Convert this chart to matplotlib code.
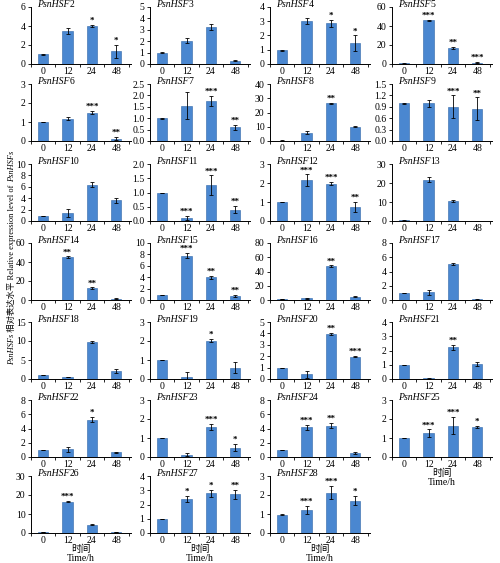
import matplotlib
matplotlib.use("Agg")
import matplotlib.pyplot as plt
from matplotlib.ticker import FixedLocator, FormatStrFormatter

plt.rcParams['font.family'] = ['Liberation Serif', 'Noto Sans CJK SC']
plt.rcParams['font.size'] = 7

times = ['0', '12', '24', '48']
genes = ['2', '3', '4', '5', '6', '7', '8', '9', '10', '11', '12', '13', '14', '15',
         '16', '17', '18', '19', '20', '21', '22', '23', '24', '25', '26', '27', '28']

means = [
    [1.0, 3.45, 4.0, 1.35], [1.0, 2.05, 3.25, 0.3], [0.95, 3.0, 2.85, 1.45],
    [0.6, 46.0, 17.0, 1.5], [1.0, 1.17, 1.5, 0.12], [1.0, 1.55, 1.75, 0.6],
    [0.3, 5.8, 26.5, 10.0], [0.99, 0.99, 0.9, 0.85], [0.9, 1.45, 6.4, 3.6],
    [0.98, 0.12, 1.25, 0.4], [1.0, 2.15, 1.97, 0.75], [0.3, 21.8, 10.5, 0.1],
    [0.4, 45.0, 12.5, 1.5], [0.9, 7.8, 4.0, 0.7], [1.0, 2.5, 47.5, 4.5],
    [0.95, 1.1, 5.05, 0.1], [1.0, 0.5, 9.7, 2.1], [1.0, 0.12, 2.02, 0.6],
    [0.97, 0.4, 3.95, 1.97], [0.97, 0.05, 2.22, 1.05], [0.95, 1.1, 5.25, 0.65],
    [1.0, 0.12, 1.58, 0.5], [0.95, 4.15, 4.4, 0.55], [1.0, 1.25, 1.65, 1.6],
    [0.5, 16.5, 4.3, 0.4], [0.97, 2.38, 2.78, 2.72], [0.97, 1.22, 2.12, 1.7],
]
errs = [
    [0.05, 0.3, 0.15, 0.7], [0.03, 0.25, 0.3, 0.05], [0.02, 0.2, 0.25, 0.55],
    [0.1, 0.5, 0.8, 0.5], [0.02, 0.08, 0.1, 0.08], [0.02, 0.58, 0.22, 0.1],
    [0.1, 1.0, 0.5, 0.3], [0.01, 0.1, 0.3, 0.3], [0.05, 0.7, 0.5, 0.4],
    [0.01, 0.07, 0.35, 0.13], [0.02, 0.3, 0.08, 0.27], [0.05, 1.5, 0.4, 0.05],
    [0.1, 0.8, 0.8, 0.3], [0.05, 0.4, 0.25, 0.2], [0.1, 0.5, 1.0, 0.5],
    [0.02, 0.35, 0.2, 0.1], [0.05, 0.1, 0.3, 0.6], [0.02, 0.25, 0.08, 0.3],
    [0.02, 0.3, 0.08, 0.05], [0.02, 0.05, 0.18, 0.15], [0.03, 0.35, 0.35, 0.05],
    [0.02, 0.07, 0.15, 0.2], [0.03, 0.35, 0.35, 0.15], [0.02, 0.2, 0.45, 0.05],
    [0.1, 0.3, 0.3, 0.1], [0.02, 0.2, 0.25, 0.3], [0.02, 0.2, 0.35, 0.25],
]
stars = [
    ['', '', '*', '*'], ['', '', '', ''], ['', '', '*', '*'], ['', '***', '**', '***'],
    ['', '', '***', '**'], ['', '', '***', '**'], ['', '', '**', ''], ['', '', '***', '**'],
    ['', '', '', ''], ['', '***', '***', '**'], ['', '***', '***', '**'], ['', '', '', ''],
    ['', '**', '**', ''], ['', '***', '**', '**'], ['', '', '**', ''], ['', '', '', ''],
    ['', '', '', ''], ['', '', '*', ''], ['', '', '**', '***'], ['', '', '**', ''],
    ['', '', '*', ''], ['', '', '***', '*'], ['', '***', '**', ''], ['', '***', '***', '*'],
    ['', '***', '', ''], ['', '*', '*', '**'], ['', '***', '***', '*'],
]
# y axis top and step for each panel
ytop = [6, 5, 4, 60, 3, 2.5, 40, 1.5, 10, 2.0, 3, 30, 60, 10, 80, 8, 15, 3, 5, 4,
        8, 3, 8, 3, 30, 4, 3]
ystep = [2, 1, 1, 20, 1, 0.5, 10, 0.3, 2, 0.5, 1, 10, 20, 2, 20, 2, 5, 1, 1, 1,
         2, 1, 2, 1, 10, 1, 1]

W, H = 500, 563
fig = plt.figure(figsize=(5, 5.63), dpi=100)

col_left = [31, 150, 270, 392]
ax_w = 100
row_top = [7, 84, 164, 243, 322, 400, 476]
ax_h = 57
bar_color = '#4a87d0'
xlabel_panels = {'25', '26', '27', '28'}

ax = None
for i, g in enumerate(genes):
    r, c = divmod(i, 4)
    left = col_left[c] / W
    bottom = (H - row_top[r] - ax_h) / H
    ax = fig.add_axes([left, bottom, ax_w / W, ax_h / H])
    x = list(range(len(times)))
    ax.bar(x, means[i], width=0.42, color=bar_color, edgecolor='#2f66a8', linewidth=0.4,
           yerr=errs[i], error_kw=dict(ecolor='black', elinewidth=0.6, capsize=1.2, capthick=0.6))
    for xi, m, e, s in zip(x, means[i], errs[i], stars[i]):
        if s:
            ax.text(xi, m + e, s, ha='center', va='bottom', fontsize=6.5,
                    fontweight='bold')
    ax.set_xlim(-0.5, 3.6)
    ax.set_ylim(0, ytop[i])
    n = int(round(ytop[i] / ystep[i]))
    ax.yaxis.set_major_locator(FixedLocator([k * ystep[i] for k in range(n + 1)]))
    if ystep[i] < 1:
        ax.yaxis.set_major_formatter(FormatStrFormatter('%.1f'))
    ax.set_xticks(x)
    ax.set_xticklabels(times)
    ax.set_xticks([-0.5, 0.5, 1.5, 2.5, 3.5], minor=True)
    ax.tick_params(axis='x', which='major', length=0, pad=2, labelsize=7)
    ax.tick_params(axis='x', which='minor', length=2.5, width=0.6, direction='out')
    ax.tick_params(axis='y', length=2.5, width=0.6, pad=1.5, labelsize=7)
    for sp in ['top', 'right']:
        ax.spines[sp].set_visible(False)
    for sp in ['left', 'bottom']:
        ax.spines[sp].set_linewidth(0.7)
    t1 = ax.text(0.06, 1.05, 'PsnHSF', transform=ax.transAxes, ha='left', va='center',
                 fontstyle='italic', fontsize=7)
    ax.annotate(g, xy=(1, 0), xycoords=t1, ha='left', va='bottom', fontsize=7)
    if g in xlabel_panels:
        ax.set_xlabel('时间\nTime/h', fontsize=7, labelpad=0, linespacing=0.95)

# y label built from pieces, read bottom to top
p1 = fig.text(0.024, 0.352, 'PsnHSFs', rotation=90, ha='center', va='bottom',
              fontstyle='italic', fontsize=6)
p2 = ax.annotate(' 相对表达水平 Relative expression level of ', xy=(0.5, 1), xycoords=p1,
                 rotation=90, ha='center', va='bottom', fontsize=6,
                 annotation_clip=False)
p3 = ax.annotate('PsnHSFs', xy=(0.5, 1), xycoords=p2, rotation=90, ha='center',
                 va='bottom', fontsize=6, fontstyle='italic', annotation_clip=False)

fig.savefig('out.png', dpi=100)
